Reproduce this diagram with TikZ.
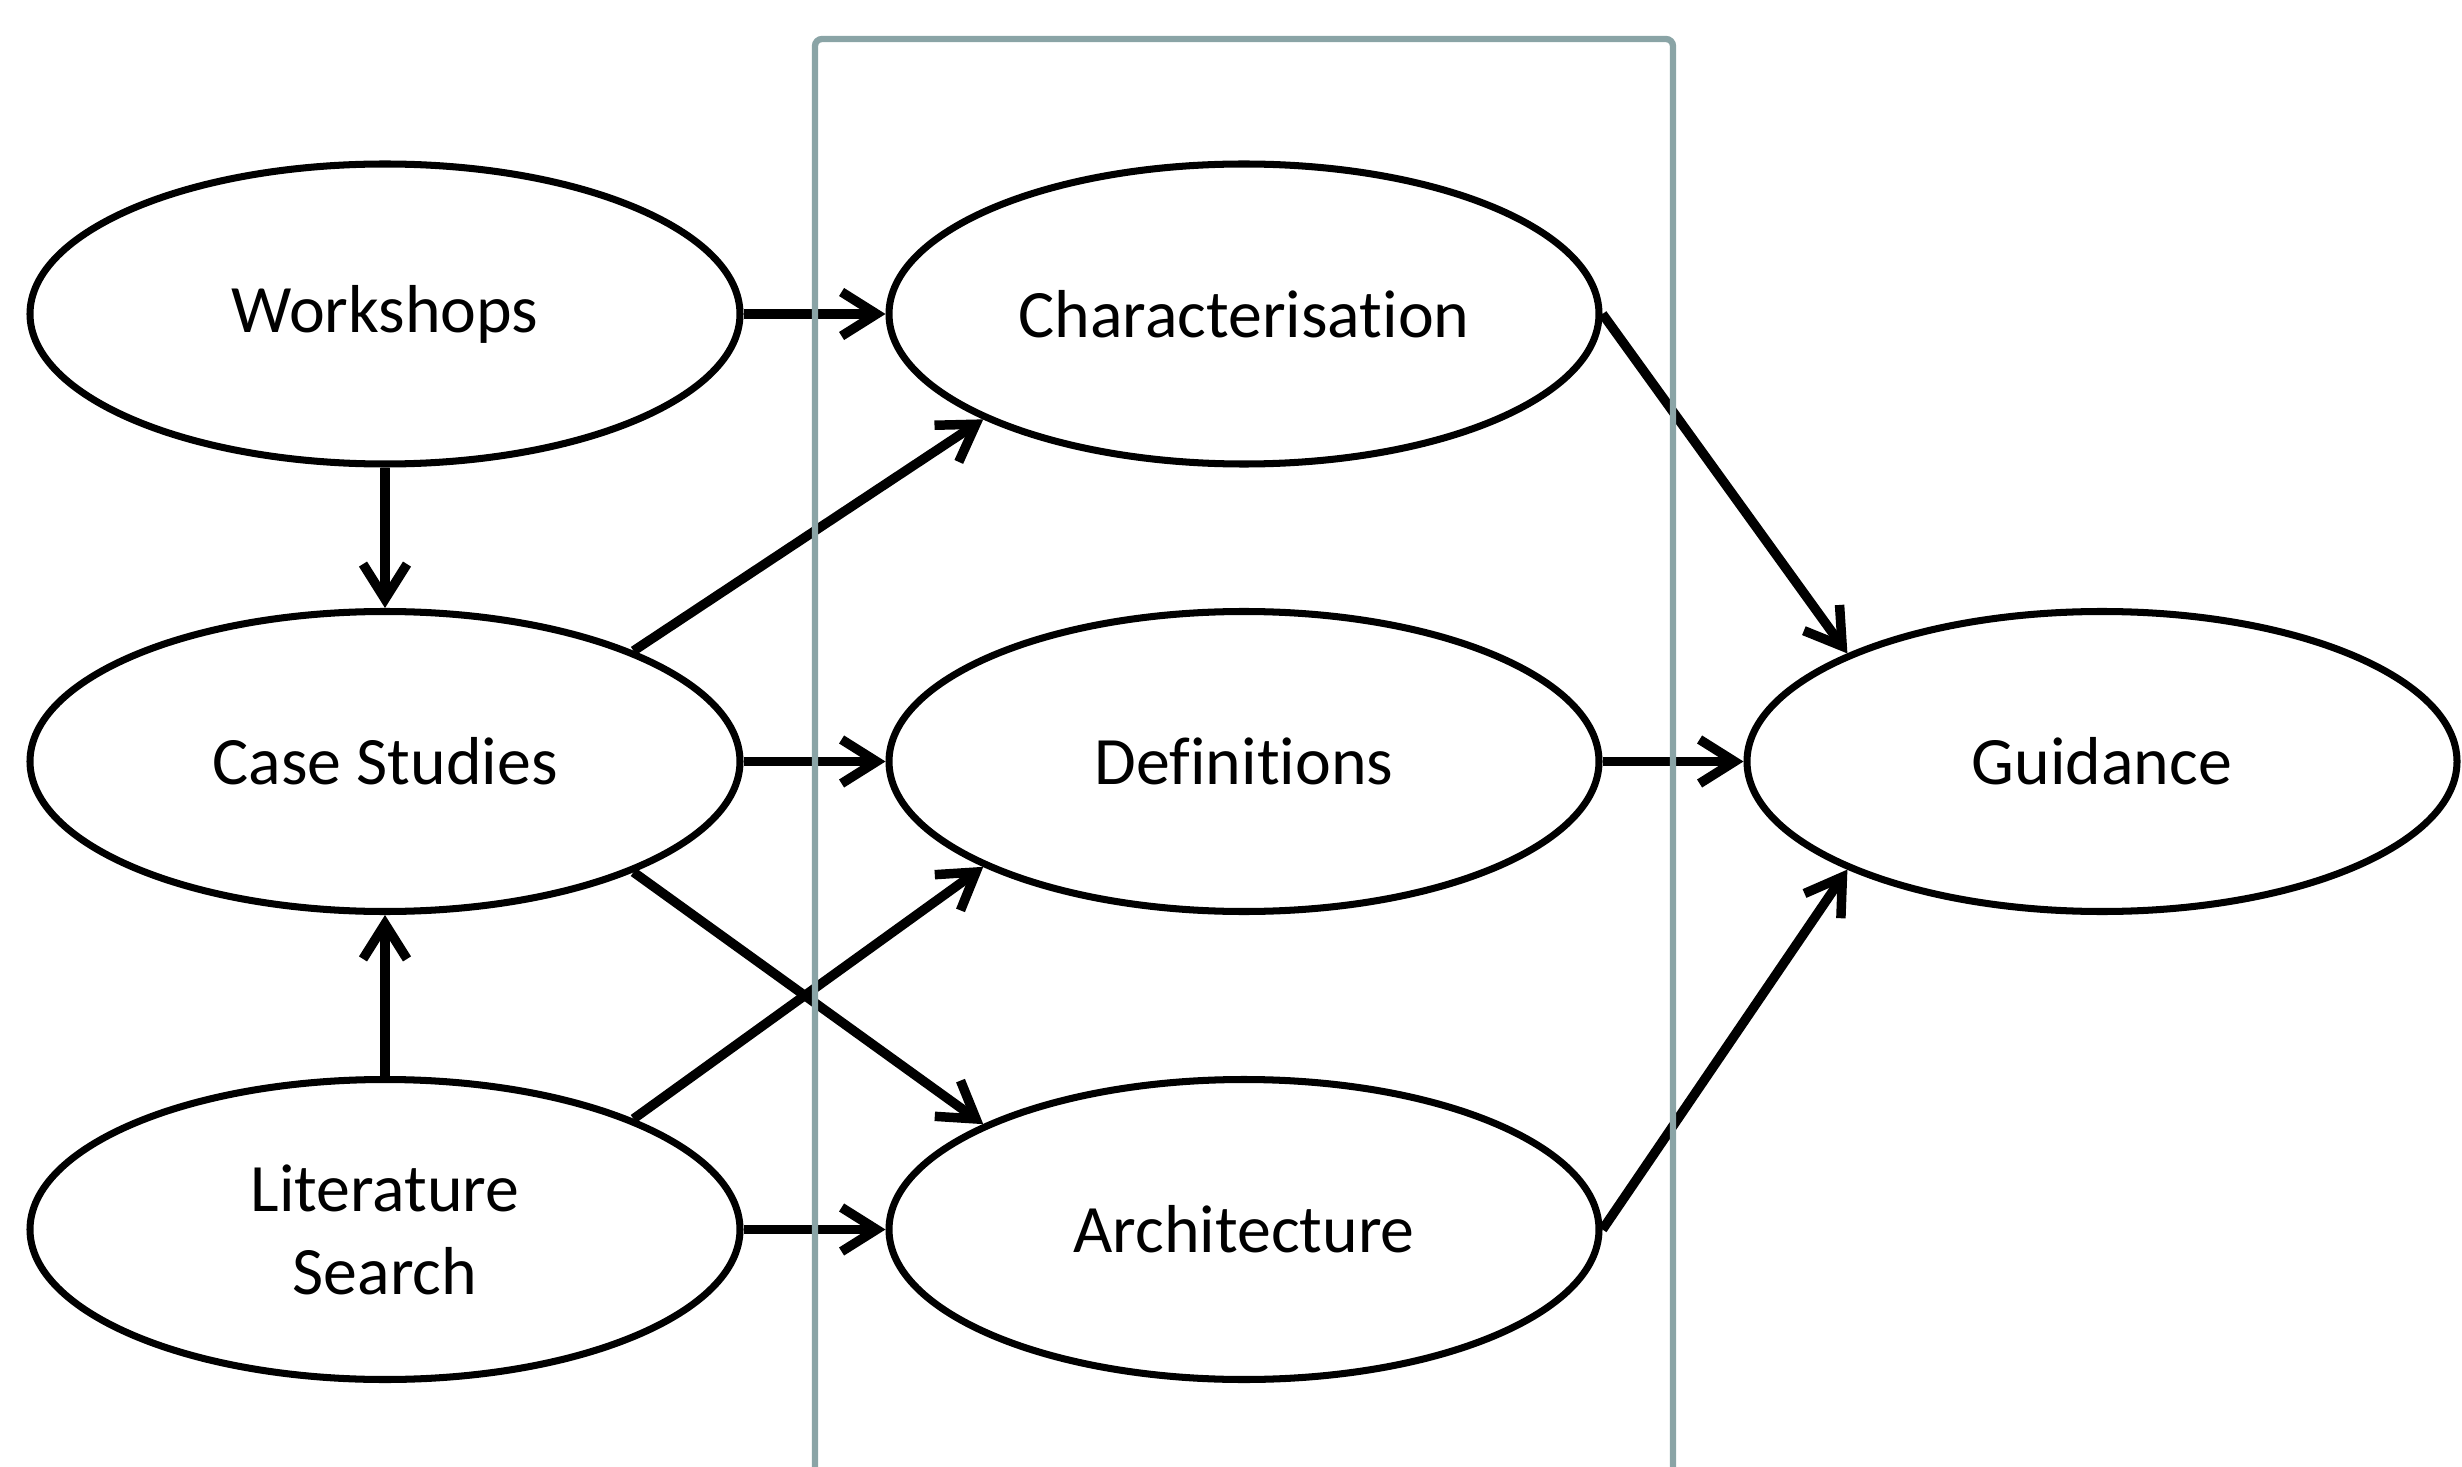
\documentclass[tikz,border=0pt]{standalone}
\usepackage{fontspec}
\setmainfont[Ligatures=NoCommon]{Carlito}
\usetikzlibrary{arrows.meta,shapes.geometric,positioning}
\definecolor{phasegray}{RGB}{138,164,166}
\tikzset{
  stage/.style    = {draw, ellipse, line width=2pt, minimum width=7.1cm,
                     minimum height=3cm, inner sep=0pt, align=center,
                     font=\fontsize{19.3}{23.6}\selectfont},
  flow/.style     = {->, line width=2.7pt},
  phasebox/.style = {draw=phasegray, line width=1.8pt, rounded corners=2pt}
}

\begin{document}
\begin{tikzpicture}[
  >={Straight Barb[length=3.5mm,width=4.4mm]}]

\useasboundingbox (0,0) rectangle (24.62,-14.67);

\begin{scope}[every node/.style={stage}]
% sources
\node (ws) at (3.85,-3.14) {Workshops};
\node [below of = ws, node distance=4.475cm] (cs) {Case Studies};
\node [below of = cs, node distance=4.68cm] (ls) {Literature\\Search};

% outputs (\kern0pt keeps t-i and f-i apart)
\node [right of = ws, node distance=8.59cm] (ch) {Characterisat\kern0pt ion};
\node [right of = cs, node distance=8.59cm] (de) {Def\kern0pt init\kern0pt ions};
\node [right of = ls, node distance=8.59cm] (ar) {Architecture};

\node [right of = de, node distance=8.58cm] (gu) {Guidance};
\end{scope}

\draw[flow] (ws) -- (ch);
\draw[flow] (ws) -- (cs);
\draw[flow] (ls) -- (cs);
\draw[flow] (cs) -- (de);
\draw[flow] (ls) -- (ar);
\draw[flow] (cs.24) -- (ch.202);
\draw[flow] (cs.-24) -- (ar.158);
\draw[flow] (ls.24) -- (de.202);

\draw[flow] (ch.east) -- (gu.157);
\draw[flow] (de) -- (gu);
\draw[flow] (ar.east) -- (gu.203);

% middle phase
\draw[phasebox] (8.15,-15) |- (16.73,-0.39) -- (16.73,-15);

\end{tikzpicture}
\end{document}
